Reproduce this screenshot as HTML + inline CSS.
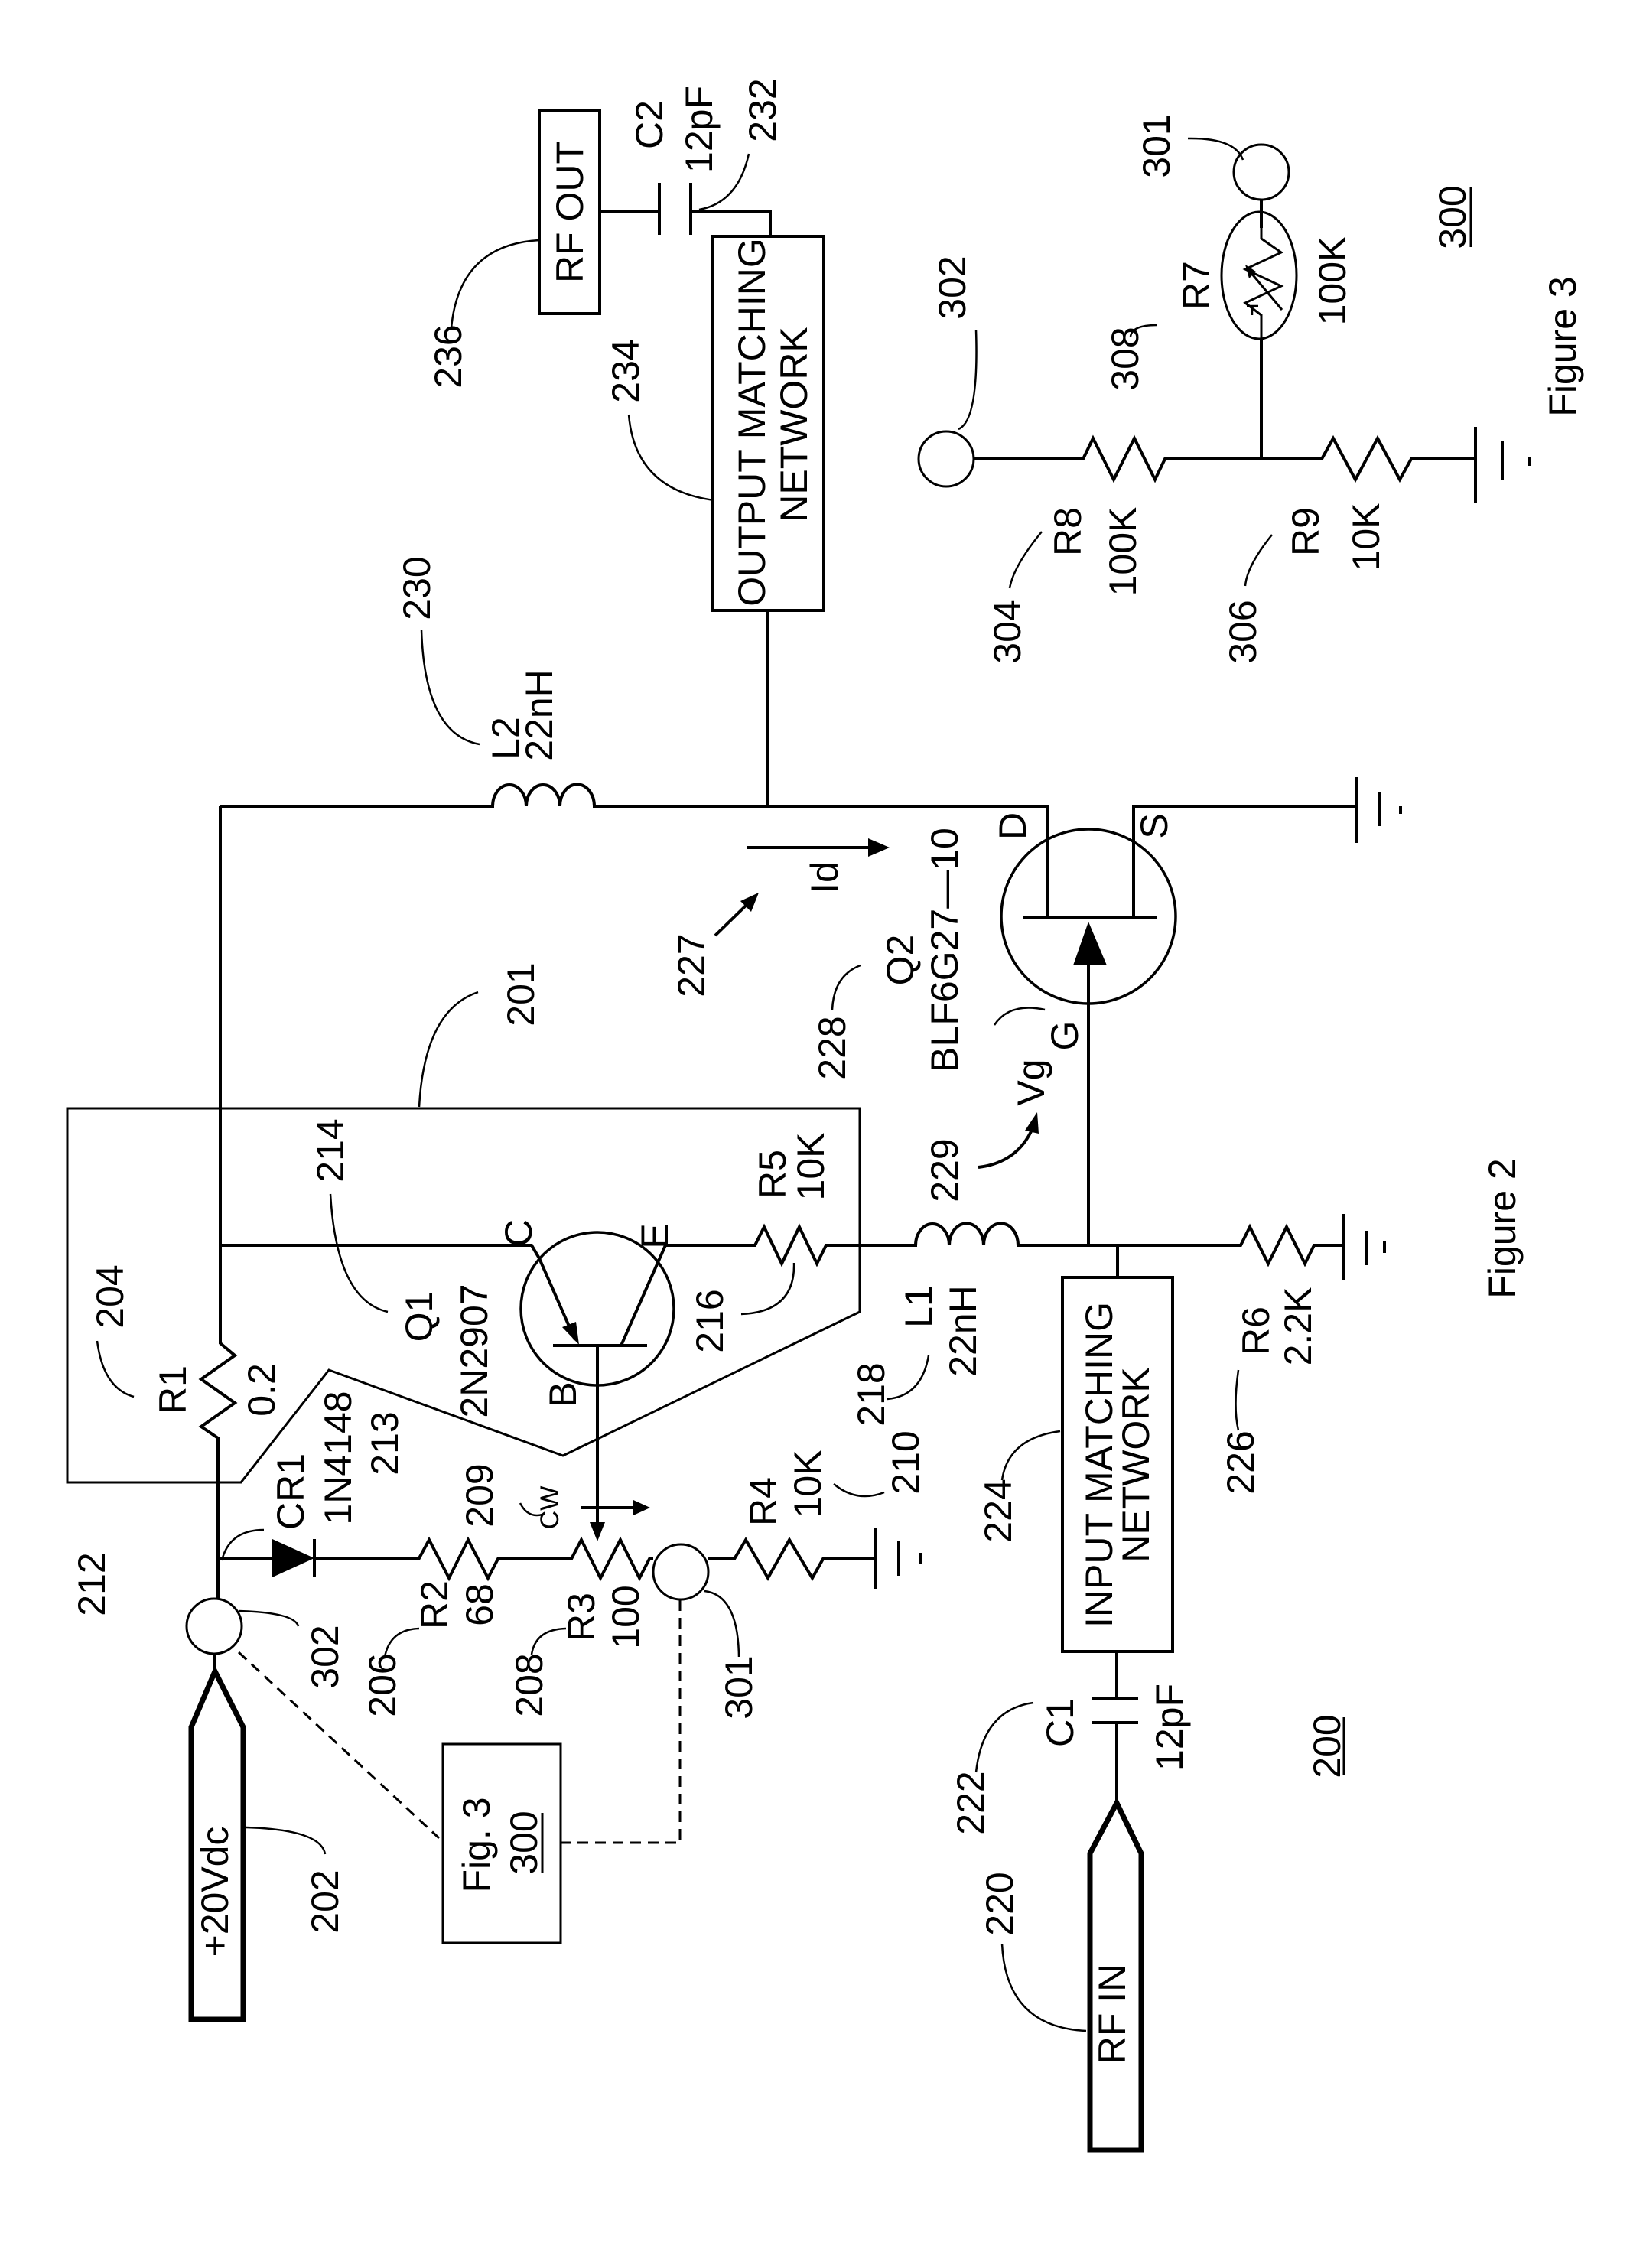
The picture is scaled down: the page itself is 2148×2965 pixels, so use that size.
<!DOCTYPE html>
<html><head><meta charset="utf-8"><style>
html,body{margin:0;padding:0;background:#fff}
svg{display:block}
text{font-family:"Liberation Sans",sans-serif;font-size:50px;fill:#000}
</style></head><body>
<svg width="2148" height="2965" viewBox="0 0 2148 2965" xmlns="http://www.w3.org/2000/svg">
<rect width="2148" height="2965" fill="#fff"/>
<g fill="none" stroke="#000" stroke-width="4" stroke-linejoin="miter">
<!-- RF OUT / C2 / output network -->
<rect x="705" y="144" width="79" height="266"/>
<path d="M784,276 H862 M862,239 V307 M903,239 V307 M903,276 H1007 V309"/>
<rect x="931" y="309" width="146" height="489"/>
<path d="M1003,798 V1054"/>
<!-- main top line + L2 -->
<path d="M288,1054 H644 a22,28 0 0 1 44,0 a22,28 0 0 1 44,0 a22,28 0 0 1 45,0 H1369 V1199"/>
<path d="M1338,1199 H1512 M1482,1199 V1054 H1773"/>
<circle cx="1423" cy="1198" r="114" stroke-width="3.5"/>
<path d="M1423,1262 V1628"/>
<path d="M1773,1016 V1102 M1803,1035 V1080 M1831,1054 V1064"/>
<!-- Id arrow, 227 arrow, Vg arrow -->
<path d="M976,1108 H1140"/>
<path d="M935,1223 L975,1184"/>
<path d="M1279,1526 Q1330,1520 1350,1475"/>
<!-- main vertical wire with R1 -->
<path d="M288,1054 V1756 L307,1772 L263,1803 L307,1834 L263,1865 L285,1880 V2090"/>
<path d="M281,2162 V2185"/>
<circle cx="280" cy="2126" r="36" stroke-width="3"/>
<!-- +20Vdc -->
<path d="M281,2185 L318,2258 V2640 H250 V2258 Z" stroke-width="7"/>
<!-- box 201 -->
<path d="M88,1449 H1124 V1715 L736,1903 L430,1791 L315,1938 H88 Z" stroke-width="3"/>
<!-- Q1 -->
<circle cx="781" cy="1711" r="100" stroke-width="3.5"/>
<path d="M288,1628 H695 L705,1645 L752,1752 M812,1759 L870,1628 H987 L999,1604 L1022,1652 L1045,1604 L1068,1652 L1080,1628 H1197 a22,28 0 0 1 44,0 a22,28 0 0 1 45,0 a22,28 0 0 1 45,0 H1622 L1634,1604 L1658,1652 L1682,1604 L1706,1652 L1718,1628 H1756"/>
<path d="M723,1759 H846 M781,1759 V1995"/>
<path d="M1756,1587 V1673 M1786,1609 V1654 M1810,1622 V1638"/>
<path d="M1461,1628 V1670"/>
<rect x="1389" y="1670" width="144" height="489"/>
<path d="M1460,2159 V2220 M1427,2220 H1488 M1427,2252 H1488 M1460,2252 V2357"/>
<path d="M1460,2357 L1492,2423 V2811 H1425 V2423 Z" stroke-width="7"/>
<!-- CW arrow -->
<path d="M759,1971 H830"/>
<!-- diode line -->
<path d="M285,2037 H356 M411,2012 V2062 M413,2037 H548 L561,2013 L587,2063 L612,2013 L638,2063 L651,2038 H747 L760,2013 L785,2063 L811,2013 L836,2063 L849,2038 H854 M926,2038 H960 L975,2013 L1004,2063 L1032,2013 L1062,2063 L1076,2038 H1145"/>
<circle cx="890" cy="2055" r="36" stroke-width="3"/>
<path d="M1145,1997 V2077 M1175,2015 V2060 M1203,2030 V2045"/>
<!-- Fig3 box + dashed -->
<rect x="579" y="2280" width="154" height="260" stroke-width="3"/>
<path d="M312,2160 L574,2403 M889,2092 V2409 H733" stroke-dasharray="14,9" stroke-width="3"/>
<!-- Figure 3 -->
<circle cx="1649" cy="225" r="36" stroke-width="3"/>
<path d="M1649,261 V298 M1649,443 V600"/>
<ellipse cx="1646" cy="360" rx="49" ry="83" stroke-width="3"/>
<path d="M1649,298 V312 L1675,330 L1628,352 L1675,374 L1628,396 L1649,412 V443" stroke-width="3"/>
<path d="M1676,405 L1630,350" stroke-width="3"/>
<path d="M1630,400 H1645 M1637,400 V412" stroke-width="2.5"/>
<circle cx="1237" cy="600" r="36" stroke-width="3"/>
<path d="M1273,600 H1416 L1429,573 L1456,627 L1483,573 L1510,627 L1523,600 H1728 L1743,573 L1772,627 L1801,573 L1830,627 L1845,600 H1929"/>
<path d="M1929,558 V657 M1964,577 V628 M1999,597 V609"/>
<!-- leaders -->
<g stroke-width="2.5">
<path d="M590,429 Q600,320 705,314"/>
<path d="M822,542 Q830,640 933,654"/>
<path d="M551,823 Q555,960 627,973"/>
<path d="M979,201 Q965,265 914,274"/>
<path d="M625,1297 Q555,1320 548,1447"/>
<path d="M432,1561 Q440,1700 507,1715"/>
<path d="M1038,1651 Q1040,1715 969,1718"/>
<path d="M127,1753 Q135,1815 175,1826"/>
<path d="M1214,1772 Q1205,1825 1160,1829"/>
<path d="M1619,1791 Q1612,1840 1619,1870"/>
<path d="M1386,1871 Q1318,1880 1310,1935"/>
<path d="M1156,1951 Q1120,1965 1090,1940"/>
<path d="M1366,1320 Q1320,1310 1300,1340"/>
<path d="M312,2106 Q385,2108 390,2126"/>
<path d="M322,2389 Q420,2392 425,2424"/>
<path d="M503,2166 Q510,2130 548,2129"/>
<path d="M695,2163 Q700,2130 740,2129"/>
<path d="M966,2166 Q965,2085 921,2080"/>
<path d="M345,2000 Q300,2000 290,2040" />
<path d="M1276,2317 Q1285,2235 1351,2226"/>
<path d="M1310,2541 Q1315,2650 1420,2655"/>
<path d="M1553,181 Q1615,180 1625,209"/>
<path d="M1276,431 Q1280,550 1253,561"/>
<path d="M1512,425 Q1480,425 1478,440"/>
<path d="M1362,695 Q1325,740 1320,769"/>
<path d="M1663,699 Q1630,740 1628,766"/>
<path d="M1125,1262 Q1090,1275 1088,1320"/>
<path d="M709,1980 Q690,1985 680,1965"/>
<path d="M1923,245 V323 M709,2370 V2448 M1757,2245 V2320" stroke-width="3"/>
</g>
</g>
<!-- filled shapes -->
<g fill="#000" stroke="none">
<polygon points="1163,1108 1135,1096 1135,1120"/>
<polygon points="992,1167 968,1178 982,1192"/>
<polygon points="1356,1454 1340,1478 1358,1482"/>
<polygon points="1423,1205 1403,1262 1447,1262"/>
<polygon points="757,1758 735,1735 753,1728"/>
<polygon points="781,2015 771,1990 791,1990"/>
<polygon points="850,1971 828,1961 828,1981"/>
<polygon points="356,2012 356,2062 411,2037"/>
<polygon points="1628,346 1633,364 1642,355"/>
</g>
<g text-anchor="middle" dominant-baseline="central">
<text transform="translate(745,277) rotate(-90)">RF OUT</text>
<text transform="translate(849,163) rotate(-90)">C2</text>
<text transform="translate(914,169) rotate(-90)">12pF</text>
<text transform="translate(997,144) rotate(-90)">232</text>
<text transform="translate(586,466) rotate(-90)">236</text>
<text transform="translate(818,485) rotate(-90)">234</text>
<text transform="translate(545,769) rotate(-90)">230</text>
<text transform="translate(661,965) rotate(-90)">L2</text>
<text transform="translate(705,935) rotate(-90)">22nH</text>
<text transform="translate(983,552) rotate(-90)">OUTPUT MATCHING</text>
<text transform="translate(1038,555) rotate(-90)">NETWORK</text>
<text transform="translate(1078,1147) rotate(-90)">Id</text>
<text transform="translate(904,1262) rotate(-90)">227</text>
<text transform="translate(1177,1255) rotate(-90)">Q2</text>
<text transform="translate(1235,1242) rotate(-90)">BLF6G27—10</text>
<text transform="translate(1088,1370) rotate(-90)">228</text>
<text transform="translate(1324,1080) rotate(-90)">D</text>
<text transform="translate(1509,1080) rotate(-90)">S</text>
<text transform="translate(1392,1354) rotate(-90)">G</text>
<text transform="translate(1348,1415) rotate(-90)">Vg</text>
<text transform="translate(1235,1530) rotate(-90)">229</text>
<text transform="translate(681,1300) rotate(-90)">201</text>
<text transform="translate(432,1504) rotate(-90)">214</text>
<text transform="translate(548,1721) rotate(-90)">Q1</text>
<text transform="translate(620,1766) rotate(-90)">2N2907</text>
<text transform="translate(678,1612) rotate(-90)">C</text>
<text transform="translate(856,1616) rotate(-90)">E</text>
<text transform="translate(736,1823) rotate(-90)">B</text>
<text transform="translate(928,1727) rotate(-90)">216</text>
<text transform="translate(1010,1535) rotate(-90)">R5</text>
<text transform="translate(1060,1525) rotate(-90)">10K</text>
<text transform="translate(144,1695) rotate(-90)">204</text>
<text transform="translate(226,1817) rotate(-90)">R1</text>
<text transform="translate(342,1817) rotate(-90)">0.2</text>
<text transform="translate(380,1950) rotate(-90)">CR1</text>
<text transform="translate(442,1906) rotate(-90)">1N4148</text>
<text transform="translate(503,1887) rotate(-90)">213</text>
<text transform="translate(627,1955) rotate(-90)">209</text>
<text transform="translate(719,1971) rotate(-90)" style="font-size:34px">CW</text>
<text transform="translate(998,1963) rotate(-90)">R4</text>
<text transform="translate(1056,1940) rotate(-90)">10K</text>
<text transform="translate(1184,1912) rotate(-90)">210</text>
<text transform="translate(1139,1823) rotate(-90)">218</text>
<text transform="translate(1201,1708) rotate(-90)">L1</text>
<text transform="translate(1259,1740) rotate(-90)">22nH</text>
<text transform="translate(1642,1740) rotate(-90)">R6</text>
<text transform="translate(1697,1734) rotate(-90)">2.2K</text>
<text transform="translate(1622,1912) rotate(-90)">226</text>
<text transform="translate(1964,1606) rotate(-90)">Figure 2</text>
<text transform="translate(1437,1915) rotate(-90)">INPUT MATCHING</text>
<text transform="translate(1485,1915) rotate(-90)">NETWORK</text>
<text transform="translate(1305,1975) rotate(-90)">224</text>
<text transform="translate(120,2071) rotate(-90)">212</text>
<text transform="translate(425,2166) rotate(-90)">302</text>
<text transform="translate(500,2203) rotate(-90)">206</text>
<text transform="translate(568,2098) rotate(-90)">R2</text>
<text transform="translate(627,2098) rotate(-90)">68</text>
<text transform="translate(692,2203) rotate(-90)">208</text>
<text transform="translate(760,2114) rotate(-90)">R3</text>
<text transform="translate(818,2114) rotate(-90)">100</text>
<text transform="translate(966,2206) rotate(-90)">301</text>
<text transform="translate(281,2473) rotate(-90)">+20Vdc</text>
<text transform="translate(425,2486) rotate(-90)">202</text>
<text transform="translate(623,2412) rotate(-90)">Fig. 3</text>
<text transform="translate(685,2409) rotate(-90)">300</text>
<text transform="translate(1454,2633) rotate(-90)">RF  IN</text>
<text transform="translate(1307,2489) rotate(-90)">220</text>
<text transform="translate(1269,2357) rotate(-90)">222</text>
<text transform="translate(1386,2252) rotate(-90)">C1</text>
<text transform="translate(1529,2258) rotate(-90)">12pF</text>
<text transform="translate(1735,2283) rotate(-90)">200</text>
<text transform="translate(1512,191) rotate(-90)">301</text>
<text transform="translate(1245,376) rotate(-90)">302</text>
<text transform="translate(1471,469) rotate(-90)">308</text>
<text transform="translate(1564,373) rotate(-90)">R7</text>
<text transform="translate(1742,367) rotate(-90)">100K</text>
<text transform="translate(1899,284) rotate(-90)">300</text>
<text transform="translate(2043,453) rotate(-90)">Figure 3</text>
<text transform="translate(1396,695) rotate(-90)">R8</text>
<text transform="translate(1468,721) rotate(-90)">100K</text>
<text transform="translate(1317,826) rotate(-90)">304</text>
<text transform="translate(1707,695) rotate(-90)">R9</text>
<text transform="translate(1786,702) rotate(-90)">10K</text>
<text transform="translate(1625,826) rotate(-90)">306</text>
</g>
</svg>
</body></html>
